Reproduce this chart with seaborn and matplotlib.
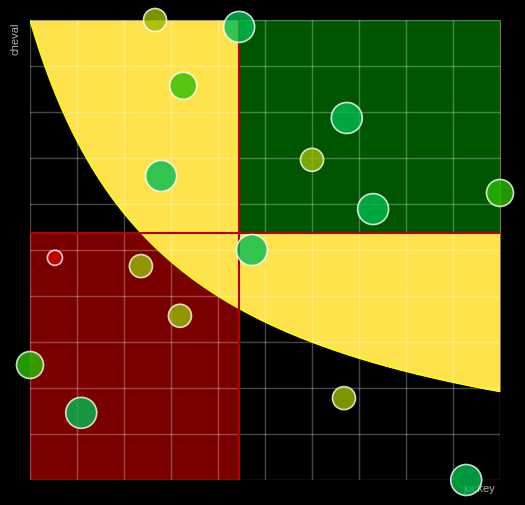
import numpy as np
import pandas as pd
import matplotlib
matplotlib.use('Agg')
import matplotlib.pyplot as plt
import seaborn as sns

# bubble data (0-10 scale on both axes)
jockey = [2.66, 4.45, 3.26, 6.74, 6.00, 2.79, 10.0, 7.30, 4.72, 0.53, 2.36, 3.19, 0.00, 1.09, 6.68, 9.28]
cheval = [10.0, 9.85, 8.57, 7.87, 6.96, 6.61, 6.24, 5.89, 5.00, 4.83, 4.65, 3.57, 2.50, 1.46, 1.78, 0.00]
note = [2, 4, 3, 4, 2, 4, 3, 4, 4, 1, 2, 2, 3, 4, 2, 4]

note_colors = {1: '#d00000', 2: '#98bd00', 3: '#2abe00', 4: '#00bd50'}
note_sizes = {1: 117, 2: 275, 3: 378, 4: 497}

# yellow zone boundary: (x + a) * (y + b) = c
curve_a, curve_b, curve_c = 3.0, 0.5, 31.5

df = pd.DataFrame({'jockey': jockey, 'cheval': cheval, 'note': note})
mean_x = df['jockey'].mean()
mean_y = df['cheval'].mean()

plt.rcParams['font.family'] = ['Liberation Sans', 'DejaVu Sans']

fig = plt.figure(figsize=(5.25, 5.05), dpi=100, facecolor='black')
ax = fig.add_axes([30 / 525, 1 - 480 / 505, 470 / 525, 460 / 505])
ax.set_facecolor('black')

# quadrants and yellow zone
ax.fill_between([0, mean_x], 0, mean_y, color='#7a0000', lw=0, zorder=1)
xs = np.linspace(0, 10, 300)
ys = curve_c / (xs + curve_a) - curve_b
ax.fill_between(xs, ys, 10, color='#ffe34d', lw=0, zorder=1.2)
ax.plot(xs, ys, color='#ffff00', lw=1.1, zorder=1.3)
ax.fill_between([mean_x, 10], mean_y, 10, color='#005500', lw=0, zorder=1.4)

ax.axvline(mean_x, color='#b40000', lw=1.5, zorder=3)
ax.axhline(mean_y, color='#b40000', lw=1.5, zorder=3)

sns.scatterplot(data=df, x='jockey', y='cheval', hue='note', size='note',
                palette=note_colors, sizes=note_sizes, alpha=0.8,
                edgecolor='white', linewidth=1.2, legend=False, zorder=5, ax=ax)
for coll in ax.collections:
    coll.set_clip_on(False)

ax.set_xlim(0, 10)
ax.set_ylim(0, 10)
ax.set_xticks(range(11))
ax.set_yticks(range(11))
ax.tick_params(length=0, labelbottom=False, labelleft=False)
ax.grid(True, color='white', alpha=0.28, lw=1)
ax.set_axisbelow(False)
for s in ax.spines.values():
    s.set_visible(False)
ax.set_xlabel('')
ax.set_ylabel('')

ax.text(-0.03, 0.994, 'cheval', rotation=90, ha='center', va='top',
        color='#b0b0b0', fontsize=8, transform=ax.transAxes, zorder=4)
ax.text(0.989, -0.009, 'jockey', ha='right', va='top',
        color='#b0b0b0', fontsize=8, transform=ax.transAxes, zorder=4)

fig.savefig('out.png', dpi=100, facecolor='black')
